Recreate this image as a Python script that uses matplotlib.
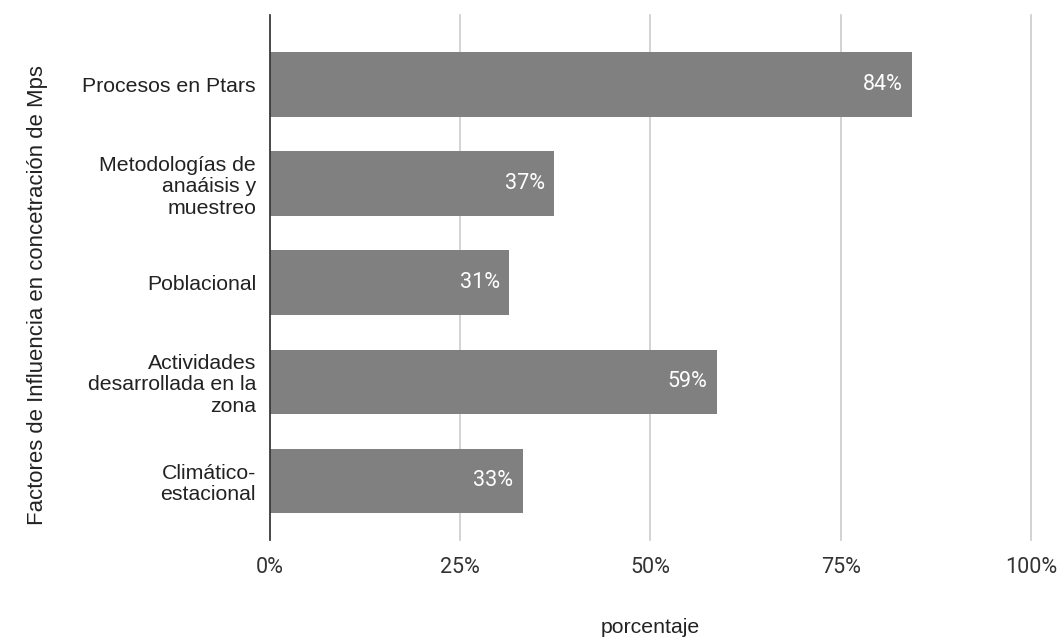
import numpy as np
import matplotlib.pyplot as plt

# datos
categorias = ["Procesos en Ptars",
              "Metodologías de\nanaáisis y\nmuestreo",
              "Poblacional",
              "Actividades\ndesarrollada en la\nzona",
              "Climático-\nestacional"]
valores = [84.4, 37.3, 31.4, 58.7, 33.2]
etiquetas = ["84%", "37%", "31%", "59%", "33%"]
ticks = [0, 25, 50, 75, 100]
tick_labels = ["0%", "25%", "50%", "75%", "100%"]

fig = plt.figure(figsize=(10.6, 6.37), dpi=100)
ax = fig.add_axes([0.2547, 0.152, 0.7179, 0.824])

y = np.arange(len(categorias))
ax.barh(y, valores, height=0.65, color="#808080", zorder=3)

for yi, v, t in zip(y, valores, etiquetas):
    ax.text(v - 1.2, yi, t, ha="right", va="center", color="white",
            fontsize=15.5, family="Roboto", zorder=4)

ax.set_xlim(0, 100)
ax.set_ylim(4.6, -0.7)
ax.set_xticks(ticks)
ax.set_xticklabels(tick_labels, family="Roboto", fontsize=15.5, color="#333333")
ax.set_yticks(y)
ax.set_yticklabels(categorias, family="Liberation Sans", fontsize=15.3,
                   color="#222222", linespacing=1.17)
ax.tick_params(length=0, pad=10)
ax.tick_params(axis="x", pad=12)
ax.grid(axis="x", color="#cccccc", linewidth=1.2, zorder=0)
for gl in ax.get_xgridlines():
    gl.set_clip_on(False)
for s in ["top", "right", "bottom"]:
    ax.spines[s].set_visible(False)
ax.spines["left"].set_color("#333333")
ax.spines["left"].set_linewidth(1.2)
ax.spines["left"].set_zorder(5)

ax.set_xlabel("porcentaje", family="Liberation Sans", fontsize=15.3,
              color="#222222", labelpad=29)
fig.text(0.035, 0.537, "Factores de Influencia en concetración de Mps",
         rotation=90, ha="center", va="center", family="Liberation Sans",
         fontsize=15.9, color="#222222")

fig.savefig("out.png", dpi=100)
